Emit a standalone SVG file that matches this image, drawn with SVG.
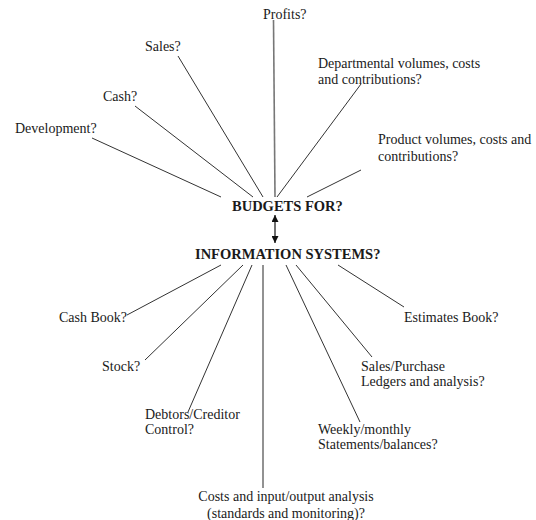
<svg xmlns="http://www.w3.org/2000/svg" width="536" height="520" viewBox="0 0 536 520">
<defs>
<style>
text{font-family:"Liberation Serif","Times New Roman",serif;font-size:14px;fill:#1a1a1a}
.b{font-weight:bold;font-size:14.5px}
.c line{stroke:#333;stroke-width:1}
.c line.v{stroke:#777;stroke-width:1.6}
</style>
<marker id="ah" viewBox="0 0 10 10" refX="10" refY="5" markerWidth="7" markerHeight="7" orient="auto-start-reverse" markerUnits="userSpaceOnUse">
<path d="M0,0 L10,5 L0,10 Z" fill="#111"/>
</marker>
</defs>
<rect width="536" height="520" fill="#fff"/>
<g class="c" id="connectors">
<line class="v" x1="273.5" y1="20" x2="275" y2="197"/>
<line x1="178" y1="56" x2="263" y2="197"/>
<line x1="135" y1="106" x2="253" y2="197"/>
<line x1="92" y1="138" x2="221" y2="197"/>
<line x1="361" y1="84" x2="277" y2="197"/>
<line x1="361" y1="170" x2="307" y2="197"/>
<line x1="275" y1="215" x2="275" y2="243" marker-start="url(#ah)" marker-end="url(#ah)" style="stroke:#111;stroke-width:1.2"/>
<line x1="221" y1="265" x2="127" y2="315"/>
<line x1="243" y1="265" x2="145" y2="360"/>
<line x1="252" y1="265" x2="188" y2="412"/>
<line class="v" x1="263" y1="265" x2="263" y2="488"/>
<line x1="286" y1="265" x2="360" y2="422"/>
<line x1="296" y1="265" x2="372" y2="357"/>
<line x1="338" y1="265" x2="404" y2="307"/>
</g>
<g id="budgets"><text class="b" x="232" y="211">BUDGETS FOR?</text></g>
<g id="info"><text class="b" x="195" y="259">INFORMATION SYSTEMS?</text></g>
<g id="profits"><text x="263" y="19">Profits?</text></g>
<g id="sales"><text x="145" y="51">Sales?</text></g>
<g id="cash"><text x="103" y="101">Cash?</text></g>
<g id="development"><text x="15" y="133">Development?</text></g>
<g id="departmental"><text x="318" y="68">Departmental volumes, costs</text><text x="318" y="84">and contributions?</text></g>
<g id="product"><text x="378" y="144">Product volumes, costs and</text><text x="378" y="161">contributions?</text></g>
<g id="cashbook"><text x="59" y="322">Cash Book?</text></g>
<g id="stock"><text x="102" y="371">Stock?</text></g>
<g id="debtors"><text x="145" y="419">Debtors/Creditor</text><text x="145" y="434">Control?</text></g>
<g id="costs"><text x="286" y="501" text-anchor="middle">Costs and input/output analysis</text><text x="286" y="518" text-anchor="middle">(standards and monitoring)?</text></g>
<g id="weekly"><text x="318" y="434">Weekly/monthly</text><text x="318" y="449">Statements/balances?</text></g>
<g id="salespurchase"><text x="361" y="371">Sales/Purchase</text><text x="361" y="386">Ledgers and analysis?</text></g>
<g id="estimates"><text x="404" y="322">Estimates Book?</text></g>
</svg>
